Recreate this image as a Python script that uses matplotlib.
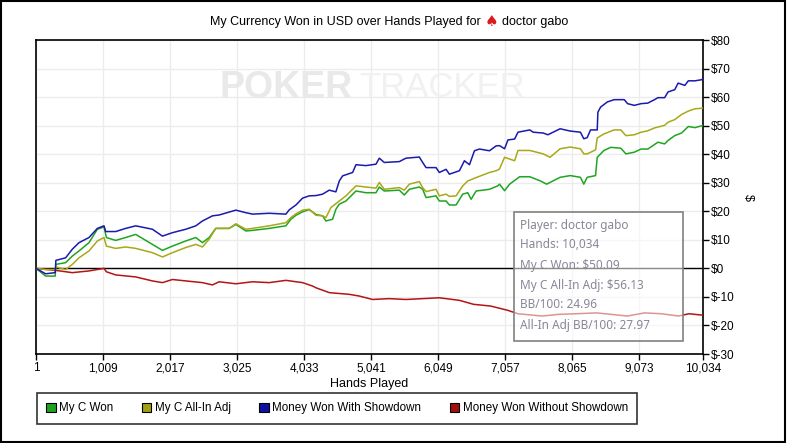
import matplotlib
matplotlib.use("Agg")
import matplotlib.pyplot as plt
from matplotlib.patches import Patch, Rectangle

plt.rcParams['font.family'] = ['Liberation Sans', 'DejaVu Sans']

# values (hand number, cumulative $)
won_hands = [1, 146, 290, 300, 447, 547, 648, 798, 924, 1024, 1060, 1200, 1350, 1501, 1752, 1903,
             2053, 2254, 2405, 2505, 2605, 2705, 2906, 3007, 3158, 3258, 3509, 3760, 3835, 3911,
             4011, 4111, 4212, 4312, 4362, 4462, 4512, 4563, 4663, 4814, 4964, 5115, 5165, 5240,
             5466, 5541, 5617, 5767, 5817, 5868, 6018, 6068, 6169, 6219, 6320, 6420, 6495, 6546,
             6621, 6822, 6947, 6973, 7049, 7125, 7276, 7428, 7581, 7683, 7885, 8037, 8190, 8241,
             8292, 8418, 8443, 8544, 8646, 8798, 8874, 9001, 9103, 9204, 9356, 9457, 9508, 9609,
             9711, 9813, 9914, 10034]
won_vals = [0, -2.7, -2.7, 1.4, 2.0, 4.3, 6.1, 9.0, 13.7, 14.5, 10.8, 9.8, 10.8, 11.9, 8.4, 6.3,
            7.8, 9.6, 10.8, 9.0, 10.8, 14.0, 14.0, 15.4, 13.1, 13.3, 14.0, 14.9, 17.2, 18.6,
            19.8, 20.6, 18.9, 18.4, 16.6, 17.2, 20.7, 22.5, 23.6, 27.1, 26.5, 26.5, 28.5, 27.1,
            27.4, 25.7, 27.7, 28.5, 27.7, 24.8, 25.4, 23.6, 23.6, 22.2, 22.2, 26.0, 26.5, 24.2,
            27.1, 27.7, 28.9, 29.5, 27.2, 29.5, 32.1, 32.1, 30.7, 29.5, 31.9, 32.5, 31.9, 29.5,
            31.9, 32.5, 38.9, 41.3, 42.4, 42.1, 40.1, 40.7, 41.8, 41.8, 44.2, 43.6, 44.8, 46.5,
            47.4, 49.7, 49.3, 50.09]

adj_hands = [1, 146, 290, 300, 447, 547, 648, 798, 924, 1024, 1060, 1200, 1350, 1501, 1752, 1903,
             2053, 2254, 2405, 2505, 2605, 2705, 2906, 3007, 3158, 3258, 3509, 3760, 3835, 3911,
             4011, 4111, 4212, 4312, 4362, 4437, 4563, 4663, 4814, 4964, 5115, 5165, 5240, 5466,
             5541, 5617, 5767, 5817, 5868, 6018, 6068, 6169, 6219, 6320, 6420, 6495, 6621, 6822,
             6922, 6973, 7049, 7125, 7200, 7251, 7428, 7632, 7733, 7885, 8037, 8190, 8241, 8292,
             8418, 8443, 8544, 8697, 8798, 8874, 9001, 9103, 9204, 9305, 9457, 9508, 9609, 9711,
             9813, 9914, 10034]
adj_vals = [0, -0.4, -0.4, 0.5, -0.4, 1.4, 3.7, 6.1, 9.6, 10.8, 7.8, 7.0, 7.5, 7.0, 5.5, 4.0,
            5.5, 7.3, 8.4, 7.5, 10.2, 14.0, 14.0, 15.6, 13.7, 14.0, 14.9, 16.0, 17.8, 19.1,
            20.4, 20.7, 18.6, 18.4, 17.8, 21.3, 23.6, 25.4, 28.9, 28.5, 28.1, 30.1, 27.7, 28.3,
            27.4, 29.5, 30.4, 28.3, 26.9, 27.7, 25.4, 26.0, 25.2, 25.4, 28.9, 30.6, 31.8, 33.6,
            34.2, 34.8, 38.9, 38.3, 37.7, 41.3, 41.3, 40.1, 38.9, 41.9, 42.5, 41.9, 40.1, 40.1,
            41.5, 45.7, 47.1, 48.5, 48.5, 46.5, 46.8, 47.7, 48.2, 49.2, 50.1, 51.2, 52.1, 53.9,
            55.1, 55.9, 56.13]

sd_hands = [1, 146, 290, 300, 447, 547, 648, 798, 924, 1024, 1049, 1200, 1350, 1501, 1752, 1903,
            2053, 2254, 2405, 2505, 2655, 2756, 3007, 3158, 3258, 3509, 3760, 3810, 3911, 4011,
            4111, 4212, 4312, 4412, 4512, 4563, 4613, 4764, 4814, 4964, 5115, 5165, 5240, 5466,
            5566, 5767, 5817, 5868, 6018, 6068, 6169, 6219, 6370, 6445, 6521, 6596, 6671, 6822,
            6922, 6973, 7049, 7100, 7200, 7251, 7428, 7480, 7632, 7700, 7885, 8037, 8190, 8241,
            8292, 8342, 8443, 8453, 8494, 8595, 8697, 8849, 8900, 9001, 9103, 9204, 9305, 9356,
            9457, 9508, 9609, 9660, 9761, 9813, 9914, 10015, 10034]
sd_vals = [0, -1.9, -1.5, 2.8, 3.7, 6.7, 9.0, 10.8, 14.0, 14.9, 12.9, 12.9, 14.0, 14.9, 13.7, 11.3,
           12.5, 13.7, 14.9, 16.6, 18.4, 18.7, 20.4, 19.5, 19.0, 19.3, 19.0, 20.5, 22.2, 24.6,
           25.4, 25.5, 26.0, 27.4, 26.8, 30.6, 32.4, 33.6, 36.3, 36.0, 36.5, 38.6, 37.1, 37.4,
           38.6, 39.0, 37.1, 35.3, 35.3, 33.6, 34.7, 33.0, 34.2, 37.7, 36.3, 41.2, 41.8, 41.2,
           42.9, 43.0, 41.9, 45.0, 45.3, 47.7, 48.5, 47.7, 47.4, 46.8, 48.9, 48.1, 47.7, 45.4,
           45.8, 48.5, 48.5, 54.7, 56.5, 58.3, 59.1, 59.1, 57.7, 57.1, 57.7, 57.9, 59.1, 59.8,
           59.8, 61.8, 62.6, 64.9, 64.1, 65.7, 65.7, 66.1, 66.5]

nsd_hands = [1, 296, 547, 798, 1024, 1060, 1200, 1501, 1752, 1903, 2053, 2254, 2505, 2655, 2756,
             3007, 3258, 3509, 3760, 4011, 4162, 4212, 4412, 4714, 4864, 5065, 5316, 5566, 5817,
             6068, 6269, 6370, 6583, 6840, 7097, 7251, 7611, 7868, 8125, 8433, 8897, 9153, 9410,
             9667, 9821, 10034]
nsd_vals = [0, -0.7, -1.5, -0.9, 0, -1.2, -2.3, -3.0, -4.4, -5.0, -3.9, -4.4, -5.0, -5.8, -4.7,
            -5.4, -4.7, -5.0, -4.2, -5.0, -6.2, -6.8, -8.5, -9.1, -9.7, -10.9, -10.6, -10.9, -10.6,
            -10.3, -10.9, -11.2, -12.6, -13.2, -14.7, -15.9, -16.7, -16.1, -15.9, -15.6, -16.7,
            -15.6, -15.9, -16.7, -15.9, -16.4]

x_ticks = [1, 1009, 2017, 3025, 4033, 5041, 6049, 7057, 8065, 9073, 10034]
y_ticks = list(range(-30, 90, 10))

series_names = ['My C Won', 'My C All-In Adj', 'Money Won With Showdown', 'Money Won Without Showdown']
series_colors = ['#1fa51f', '#a8a818', '#1a1aae', '#b41414']
legend_colors = ['#22a022', '#a0a010', '#1010a0', '#a01010']

info_lines = ['Player: doctor gabo', 'Hands: 10,034', 'My C Won: $50.09',
              'My C All-In Adj: $56.13', 'BB/100: 24.96', 'All-In Adj BB/100: 27.97']

W, H = 787, 443
fig = plt.figure(figsize=(W / 100, H / 100), dpi=100)
ax = fig.add_axes([36 / W, 1 - 354 / H, 667 / W, 314 / H])

def fx(px):
    return px / W

def fy(py):
    return 1 - py / H

# watermark
fig.text(fx(220), fy(88), 'POKER', fontsize=27, fontweight='bold', color='#e9e9e9',
         ha='left', va='center', zorder=0.5)
fig.text(fx(359), fy(88), 'TRACKER', fontsize=25, color='#f1f1f1',
         ha='left', va='center', zorder=0.5)

ax.plot(nsd_hands, nsd_vals, color=series_colors[3], lw=1.1, zorder=3)
ax.plot(won_hands, won_vals, color=series_colors[0], lw=1.1, zorder=3.1)
ax.plot(adj_hands, adj_vals, color=series_colors[1], lw=1.1, zorder=3.2)
ax.plot(sd_hands, sd_vals, color=series_colors[2], lw=1.1, zorder=3.3)
ax.axhline(0, color='black', lw=1, zorder=2.5)

ax.set_xlim(1, 10034)
ax.set_ylim(-30, 80)
ax.set_xticks(x_ticks)
ax.set_xticklabels([f'{t:,}' for t in x_ticks])
ax.set_yticks(y_ticks)
ax.set_yticklabels([f'${t}' for t in y_ticks])
ax.yaxis.tick_right()
ax.tick_params(direction='out', length=4, width=1, labelsize=8.5, colors='black', pad=2)
ax.grid(True, color='#ececec', lw=1)
ax.set_axisbelow(True)
ax.patch.set_alpha(0)
for s in ax.spines.values():
    s.set_color('black')
    s.set_linewidth(1.2)
ax.set_xlabel('Hands Played', fontsize=9, labelpad=3)

fig.text(fx(748), fy(197), '$', fontsize=9, rotation=270, ha='center', va='center')

# title with red spade
fig.text(fx(481), fy(22), 'My Currency Won in USD over Hands Played for', fontsize=9,
         ha='right', va='center')
fig.text(fx(491), fy(22), '\u2660', fontsize=11, color='#d81c1c', ha='center', va='center',
         family='DejaVu Sans')
fig.text(fx(502), fy(22), 'doctor gabo', fontsize=9, ha='left', va='center')

# info box
fig.patches.append(Rectangle((fx(514), fy(341)), (683 - 514) / W, (341 - 212) / H,
                             transform=fig.transFigure, facecolor='white', alpha=0.55,
                             edgecolor='none', zorder=5))
fig.patches.append(Rectangle((fx(514), fy(341)), (683 - 514) / W, (341 - 212) / H,
                             transform=fig.transFigure, facecolor='none',
                             edgecolor='#808080', lw=1.2, zorder=5.1))
for i, line in enumerate(info_lines):
    fig.text(fx(520), fy(225 + 20 * i), line, fontsize=8.5, color='#878797',
             family='Noto Sans', ha='left', va='center', zorder=6)

# legend
handles = [Patch(facecolor=c, edgecolor='black', lw=0.8) for c in legend_colors]
leg = fig.legend(handles, series_names, loc='upper left', bbox_to_anchor=(fx(37), fy(393)),
                 ncol=4, fontsize=8.4, frameon=True, fancybox=False, edgecolor='black',
                 handlelength=0.8, handleheight=0.8, handletextpad=0.3, columnspacing=2.45,
                 borderpad=0.8, borderaxespad=0)
leg.get_frame().set_linewidth(1.2)

# outer border
fig.patches.append(Rectangle((0.001, 0.002), 0.997, 0.996, transform=fig.transFigure,
                             facecolor='none', edgecolor='black', lw=1.5))

fig.savefig('out.png', dpi=100)
